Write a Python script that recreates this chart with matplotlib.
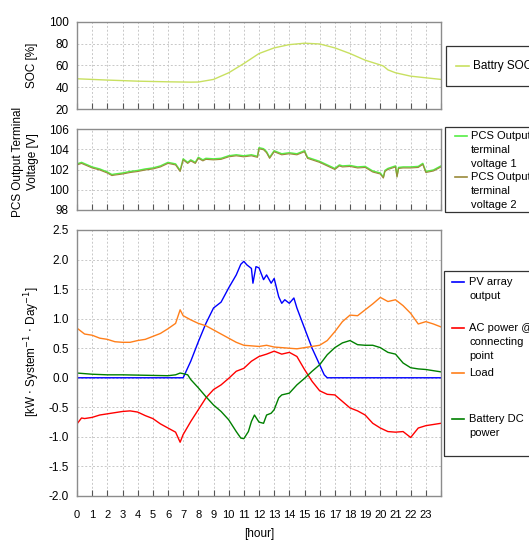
import matplotlib
matplotlib.use("Agg")
import matplotlib.pyplot as plt
from matplotlib.lines import Line2D
from matplotlib.patches import Rectangle

plt.rcParams['font.family'] = ['Liberation Sans', 'DejaVu Sans']

W, H = 529, 541

# ---- data ----
soc_h = [0, 2, 4, 6, 7.5, 8, 9, 10, 11, 12, 13, 14, 15, 16, 17, 18, 19, 20, 20.2, 20.5, 21, 22, 23, 24]
soc_v = [47.8, 46.6, 45.6, 45.0, 44.7, 44.8, 47.2, 53.3, 61.8, 71.0, 76.2, 79.2, 80.5, 79.8, 76.2, 71.0,
         64.9, 60.5, 59.5, 56.0, 53.3, 50.2, 48.7, 47.2]

volt_h = [0, 0.3, 1, 1.5, 2, 2.3, 2.5, 3, 3.5, 4, 4.5, 5, 5.5, 6, 6.5, 6.8, 7, 7.3, 7.5, 7.8, 8, 8.3,
          8.5, 9, 9.5, 10, 10.5, 11, 11.5, 11.9, 12, 12.3, 12.5, 12.7, 13, 13.5, 14, 14.5, 15, 15.2,
          15.5, 16, 16.5, 17, 17.3, 17.5, 18, 18.5, 19, 19.5, 20, 20.2, 20.3, 20.5, 21, 21.1, 21.2,
          21.5, 22, 22.5, 22.8, 23, 23.5, 24]
volt1 = [102.55, 102.7, 102.25, 102.05, 101.75, 101.5, 101.55, 101.65, 101.8, 101.9, 102.05, 102.15,
         102.35, 102.7, 102.55, 101.9, 103.05, 102.7, 102.95, 102.7, 103.2, 102.95, 103.1, 103.05,
         103.1, 103.35, 103.45, 103.35, 103.45, 103.3, 104.15, 104.05, 103.75, 103.2, 103.85, 103.55,
         103.65, 103.55, 103.85, 103.2, 103.05, 102.8, 102.45, 102.1, 102.45, 102.35, 102.4, 102.25,
         102.3, 101.85, 101.65, 101.25, 101.9, 102.1, 102.35, 101.35, 102.2, 102.25, 102.25, 102.3,
         102.6, 101.8, 101.95, 102.35]
volt2 = [102.45, 102.6, 102.15, 101.95, 101.65, 101.4, 101.45, 101.55, 101.7, 101.8, 101.95, 102.05,
         102.25, 102.6, 102.45, 101.8, 102.95, 102.6, 102.85, 102.6, 103.1, 102.85, 103.0, 102.95,
         103.0, 103.25, 103.35, 103.25, 103.35, 103.2, 104.05, 103.95, 103.65, 103.1, 103.75, 103.45,
         103.55, 103.45, 103.75, 103.1, 102.95, 102.7, 102.35, 102.0, 102.35, 102.25, 102.3, 102.15,
         102.2, 101.75, 101.55, 101.15, 101.8, 102.0, 102.25, 101.25, 102.1, 102.15, 102.15, 102.2,
         102.5, 101.7, 101.85, 102.25]

load_h = [0, 0.5, 1, 1.5, 2, 2.5, 3, 3.5, 4, 4.5, 5, 5.5, 6, 6.5, 6.8, 7, 7.5, 8, 8.5, 9, 9.5, 10,
          10.5, 11, 11.5, 12, 12.5, 13, 13.5, 14, 14.5, 15, 15.5, 16, 16.5, 17, 17.5, 18, 18.5, 19,
          19.5, 20, 20.5, 21, 21.5, 22, 22.5, 23, 23.5, 24]
load_v = [0.84, 0.74, 0.72, 0.67, 0.65, 0.61, 0.60, 0.60, 0.63, 0.65, 0.70, 0.75, 0.83, 0.92, 1.15,
          1.05, 0.98, 0.92, 0.88, 0.81, 0.74, 0.67, 0.60, 0.55, 0.54, 0.53, 0.55, 0.52, 0.51, 0.50,
          0.49, 0.51, 0.53, 0.55, 0.63, 0.78, 0.95, 1.06, 1.05, 1.15, 1.25, 1.36, 1.29, 1.32, 1.22,
          1.09, 0.91, 0.95, 0.91, 0.86]

pv_h = [0, 7.0, 7.5, 8, 8.5, 9, 9.5, 10, 10.5, 10.8, 11, 11.2, 11.5, 11.6, 11.8, 12, 12.3, 12.5,
        12.8, 13, 13.3, 13.5, 13.7, 14, 14.3, 14.5, 15, 15.5, 16, 16.3, 16.5, 24]
pv_v = [0.0, 0.0, 0.28, 0.61, 0.92, 1.18, 1.28, 1.52, 1.74, 1.92, 1.97, 1.91, 1.85, 1.60, 1.88, 1.86,
        1.66, 1.74, 1.60, 1.68, 1.37, 1.26, 1.32, 1.26, 1.35, 1.18, 0.84, 0.50, 0.22, 0.05, 0.0, 0.0]

ac_h = [0, 0.3, 0.5, 1, 1.5, 2, 2.5, 3, 3.5, 4, 4.5, 5, 5.5, 6, 6.5, 6.8, 7, 7.5, 8, 8.5, 9, 9.5,
        10, 10.5, 11, 11.5, 12, 12.5, 13, 13.5, 14, 14.5, 15, 15.5, 16, 16.5, 17, 17.5, 18, 18.5, 19,
        19.5, 20, 20.5, 21, 21.5, 22, 22.5, 23, 23.5, 24]
ac_v = [-0.78, -0.68, -0.69, -0.67, -0.63, -0.61, -0.59, -0.57, -0.56, -0.58, -0.64, -0.69, -0.78,
        -0.85, -0.92, -1.09, -0.96, -0.74, -0.54, -0.34, -0.20, -0.12, -0.01, 0.11, 0.16, 0.28, 0.36,
        0.40, 0.45, 0.40, 0.43, 0.36, 0.14, -0.06, -0.22, -0.28, -0.29, -0.40, -0.51, -0.56, -0.63,
        -0.77, -0.85, -0.91, -0.92, -0.91, -1.01, -0.85, -0.81, -0.79, -0.77]

bat_h = [0, 1, 2, 3, 4, 5, 6, 6.5, 6.8, 7, 7.3, 7.5, 8, 8.5, 9, 9.5, 10, 10.5, 10.8, 11, 11.3, 11.5,
         11.7, 12, 12.3, 12.5, 12.8, 13, 13.3, 13.5, 14, 14.5, 15, 15.5, 16, 16.5, 17, 17.5, 18, 18.5,
         19, 19.5, 20, 20.5, 21, 21.5, 22, 22.5, 23, 23.5, 24]
bat_v = [0.08, 0.06, 0.05, 0.05, 0.045, 0.04, 0.035, 0.05, 0.08, 0.07, 0.05, -0.03, -0.17, -0.32,
         -0.46, -0.57, -0.71, -0.91, -1.02, -1.03, -0.91, -0.74, -0.63, -0.75, -0.77, -0.63, -0.60,
         -0.54, -0.34, -0.29, -0.26, -0.12, -0.01, 0.11, 0.22, 0.39, 0.51, 0.59, 0.63, 0.56, 0.55,
         0.55, 0.51, 0.43, 0.40, 0.25, 0.17, 0.15, 0.14, 0.12, 0.10]

hour_ticks = list(range(0, 24))

fig = plt.figure(figsize=(W / 100, H / 100), dpi=100)


def px_rect(x0, y0, x1, y1):
    return [x0 / W, 1 - y1 / H, (x1 - x0) / W, (y1 - y0) / H]


def style(ax, ylim, yticks, fmt, show_x=False):
    ax.set_xlim(0, 24)
    ax.set_ylim(*ylim)
    ax.set_yticks(yticks)
    ax.set_yticklabels([fmt.format(v) for v in yticks])
    ax.set_xticks(range(0, 25))
    ax.set_xticklabels([str(h) for h in hour_ticks] + [''] if show_x else [])
    ax.grid(True, color='#c8c8c8', linestyle=(0, (2, 2)), linewidth=0.7)
    ax.set_axisbelow(True)
    for s in ax.spines.values():
        s.set_color('#8c8c8c')
        s.set_linewidth(1.0)
    ax.tick_params(axis='x', direction='in', length=4, color='#555555', labelsize=8, pad=10)
    ax.tick_params(axis='y', direction='in', length=0, labelsize=8.5, pad=6)


# top: SOC
ax1 = fig.add_axes(px_rect(77, 22, 441, 109))
ax1.plot(soc_h, soc_v, color='#c8e060', lw=1.0)
style(ax1, (20, 100), [20, 40, 60, 80, 100], '{:d}')

# middle: voltage
ax2 = fig.add_axes(px_rect(77, 129, 441, 210))
ax2.plot(volt_h, volt1, color='#55ee44', lw=1.1)
ax2.plot(volt_h, volt2, color='#9a8a3a', lw=0.8)
style(ax2, (98, 106), [98, 100, 102, 104, 106], '{:d}')

# bottom: power
ax3 = fig.add_axes(px_rect(77, 230, 441, 496))
ax3.plot(pv_h, pv_v, color='#0000ff', lw=1.0)
ax3.plot(ac_h, ac_v, color='#ff0000', lw=1.0)
ax3.plot(load_h, load_v, color='#ff7f1a', lw=1.0)
ax3.plot(bat_h, bat_v, color='#008000', lw=1.0)
style(ax3, (-2.0, 2.5), [-2.0, -1.5, -1.0, -0.5, 0.0, 0.5, 1.0, 1.5, 2.0, 2.5], '{:.1f}', show_x=True)

# axis titles
fig.text(32 / W, 1 - 65 / H, 'SOC [%]', rotation=90, ha='center', va='center', fontsize=8.5)
fig.text(25.5 / W, 1 - 162 / H, 'PCS Output Terminal\nVoltage [V]', rotation=90, ha='center',
         va='center', fontsize=8.5, multialignment='center', linespacing=1.3)
fig.text(32 / W, 1 - 352 / H, r'[kW $\cdot$ System$^{-1}$ $\cdot$ Day$^{-1}$]', rotation=90,
         ha='center', va='center', fontsize=8.5)
fig.text(259 / W, 1 - 534 / H, '[hour]', ha='center', va='center', fontsize=8.5)


# legends drawn as boxes on the figure (they run past the right edge as in the original)
def legend_box(x0, y0, x1, y1, entries, fs=8):
    fig.add_artist(Rectangle((x0 / W, 1 - y1 / H), (x1 - x0) / W, (y1 - y0) / H,
                             transform=fig.transFigure, fill=False, edgecolor='#333333', lw=0.9))
    for color, hx0, hx1, tx, lines in entries:
        y_first = lines[0][1]
        fig.add_artist(Line2D([hx0 / W, hx1 / W], [1 - y_first / H, 1 - y_first / H],
                              transform=fig.transFigure, color=color, lw=1.2))
        for txt, ty in lines:
            fig.text(tx / W, 1 - ty / H, txt, ha='left', va='center', fontsize=fs)


legend_box(446, 46, 560, 86,
           [('#c8e060', 456, 469, 473, [('Battry SOC', 66)])], fs=8.5)
legend_box(445, 127, 560, 212,
           [('#55ee44', 455, 467, 471, [('PCS Output', 136), ('terminal', 150), ('voltage 1', 164)]),
            ('#9a8a3a', 455, 467, 471, [('PCS Output', 177), ('terminal', 191), ('voltage 2', 205)])])
legend_box(444, 271, 560, 456,
           [('#0000ff', 452, 464, 469, [('PV array', 282), ('output', 296)]),
            ('#ff0000', 452, 464, 469, [('AC power @', 328), ('connecting', 342), ('point', 356)]),
            ('#ff7f1a', 452, 464, 469, [('Load', 373)]),
            ('#008000', 452, 464, 469, [('Battery DC', 419), ('power', 433)])])

fig.savefig('out.png', dpi=100)
